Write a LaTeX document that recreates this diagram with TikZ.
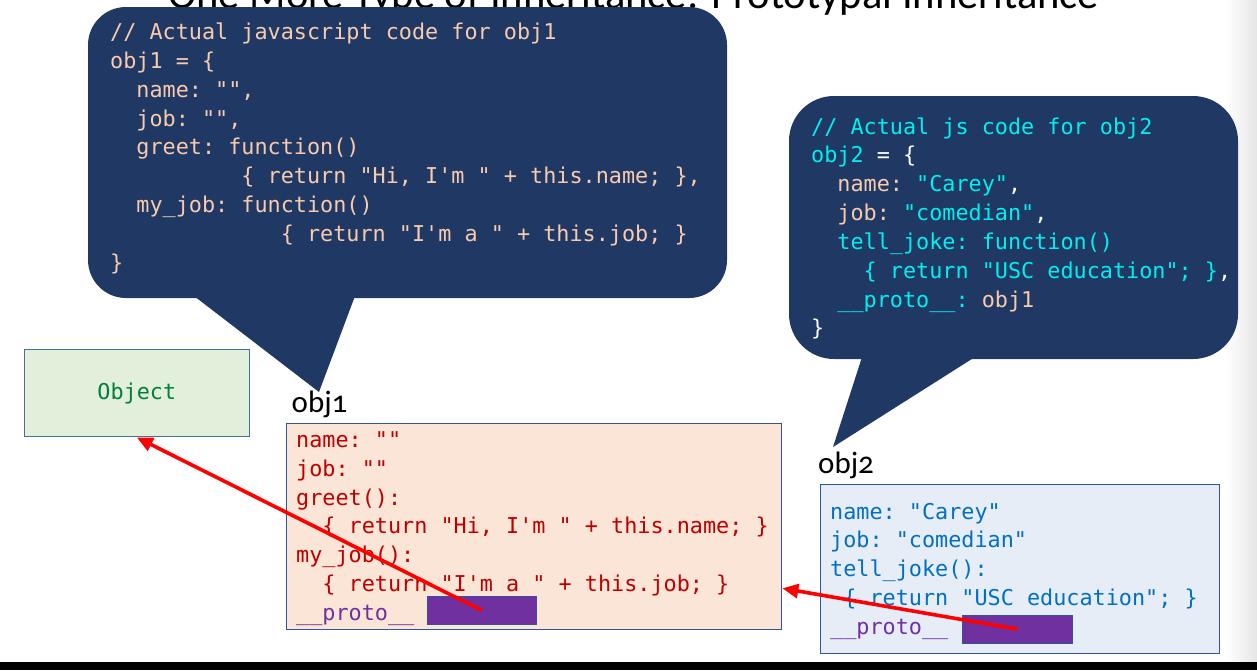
\documentclass[tikz,border=0pt]{standalone}
\usepackage{fontspec}
\setmainfont{Carlito}
\setmonofont{DejaVu Sans Mono}
\usetikzlibrary{arrows.meta}
\definecolor{navy}{RGB}{32,56,100}
\definecolor{peach}{RGB}{248,203,173}
\definecolor{jscyan}{RGB}{0,240,240}
\definecolor{oonefill}{RGB}{251,229,214}
\definecolor{oonetext}{RGB}{192,0,0}
\definecolor{jspurple}{RGB}{112,48,160}
\definecolor{otwofill}{RGB}{231,237,247}
\definecolor{otwotext}{RGB}{0,112,192}
\definecolor{objfill}{RGB}{226,239,218}
\definecolor{objtext}{RGB}{0,128,60}
\definecolor{boxblue}{RGB}{47,85,151}
\definecolor{objborder}{RGB}{65,113,156}
\newcommand\ws[1]{\hspace*{#1\fontcharwd\font`\x}}
\newcommand\cy[1]{\textcolor{jscyan}{#1}}
\newcommand\pc[1]{\textcolor{peach}{#1}}
\newcommand\wh[1]{\textcolor{white}{#1}}
\newcommand\codeblock[5]{\foreach \t [count=\i] in {#5} {\node[codeline,#2] (#1-\i) at (#3,{#4+28.85*(\i-1)}) {\t};}}
\tikzset{
  codeline/.style={font=\ttfamily\fontsize{21.8}{26}\selectfont, anchor=base west, inner sep=0pt},
  objbox/.style={draw=boxblue, line width=1.3pt, inner sep=0pt},
  objlabel/.style={font=\fontsize{31}{33}\selectfont\addfontfeature{Numbers=OldStyle}, anchor=base west, inner sep=0pt},
  protoarrow/.style={draw=red, line width=3.6pt, -{Triangle[length=16pt,width=14pt]}},
}
\begin{document}
\begin{tikzpicture}[x=1pt,y=-1pt]
\useasboundingbox (0,0) rectangle (1257,670);
\clip (0,0) rectangle (1257,670);
\fill[white] (0,0) rectangle (1257,670);
\shade[left color=white, right color=black!10] (1226,0) rectangle (1257,662);
\fill[black] (0,662) rectangle (1257,670);
% title (cut off at top)
\node[anchor=base west, inner sep=0pt, font=\fontsize{42.6}{46}\selectfont] (title) at (168,8) {One More Type of Inheritance: Prototypal Inheritance};
% left callout
\fill[navy, rounded corners=38pt] (88,7) rectangle (727,298);
\fill[navy] (194,296) -- (319,392) -- (355,296) -- cycle;
% right callout
\fill[navy, rounded corners=45pt] (789,96) rectangle (1238,359);
\fill[navy] (862,357) -- (833,447) -- (975,357) -- cycle;
% left callout code
\codeblock{lc}{text=peach}{110}{39.5}{
 {// Actual javascript code for obj1},
 {obj1 = \{},
 {\ws{2}name: "",},
 {\ws{2}job: "",},
 {\ws{2}greet: function()},
 {\ws{10}\{ return "Hi, I'm " + this.name; \},},
 {\ws{2}my\_job: function()},
 {\ws{13}\{ return "I'm a " + this.job; \}},
 {\}}}
% right callout code
\codeblock{rc}{text=white}{811}{134}{
 {\cy{// Actual js code for obj2}},
 {\cy{obj2} \wh{= \{}},
 {\ws{2}\pc{name:} \cy{"Carey"}\wh{,}},
 {\ws{2}\pc{job:} \cy{"comedian"}\wh{,}},
 {\ws{2}\cy{tell\_joke: function()}},
 {\ws{4}\cy{\{ return "USC education"; \}}\wh{,}},
 {\ws{2}\cy{\_\_proto\_\_:} \pc{obj1}},
 {\wh{\}}}}
% Object box
\node[objbox, draw=objborder, fill=objfill, minimum width=225pt, minimum height=87.4pt,
      font=\ttfamily\fontsize{21.8}{26}\selectfont, text=objtext] (object) at (136.8,393) {Object};
% obj1
\node[objlabel] (oonelbl) at (291.5,412.7) {obj1};
\node[objbox, fill=oonefill, minimum width=495pt, minimum height=206pt] (o1box) at (534.2,526.3) {};
\codeblock{ob}{text=oonetext}{296}{447.3}{
 {name: ""},
 {job: ""},
 {greet():},
 {\ws{2}\{ return "Hi, I'm " + this.name; \}},
 {my\_job():},
 {\ws{2}\{ return "I'm a " + this.job; \}},
 {\textcolor{jspurple}{\_\_proto\_\_}}}
\node[objbox, line width=1pt, fill=jspurple, minimum width=109.7pt, minimum height=28.7pt] (p1) at (481.9,610.4) {};
% obj2
\node[objlabel] (otwolbl) at (818,473) {obj2};
\node[objbox, fill=otwofill, minimum width=399pt, minimum height=169pt] (o2box) at (1019.8,568.8) {};
\codeblock{tb}{text=otwotext}{830}{519}{
 {name: "Carey"},
 {job: "comedian"},
 {tell\_joke():},
 {\ws{1}\{ return "USC education"; \}},
 {\textcolor{jspurple}{\_\_proto\_\_}}}
\node[objbox, line width=1pt, fill=jspurple, minimum width=110.4pt, minimum height=28.3pt] (p2) at (1017.5,629.2) {};
% arrows
\draw[protoarrow] (p1.center) -- (object.south);
\draw[protoarrow] (p2.center) -- ([yshift=-62pt]o1box.east);
\end{tikzpicture}
\end{document}
